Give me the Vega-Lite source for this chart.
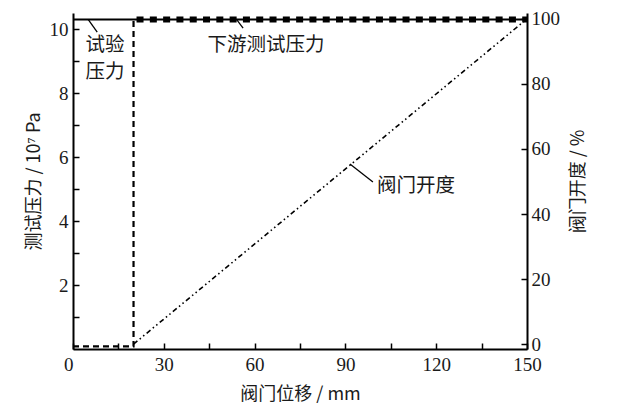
{
  "$schema": "https://vega.github.io/schema/vega-lite/v6.json",
  "width": 454,
  "height": 336,
  "autosize": "none",
  "padding": {"left": 73, "top": 13, "right": 100, "bottom": 71},
  "background": "white",
  "config": {
    "view": {"stroke": null},
    "font": "Liberation Serif",
    "axis": {
      "domainColor": "black",
      "domainWidth": 2,
      "tickColor": "black",
      "tickWidth": 1.5,
      "tickSize": -6,
      "grid": false,
      "labelOverlap": false,
      "labelFont": "Liberation Serif",
      "labelFontSize": 19,
      "labelColor": "#1a1a1a",
      "titleFont": "Noto Sans CJK SC",
      "titleFontSize": 18,
      "titleFontWeight": "normal",
      "titleColor": "#1a1a1a"
    }
  },
  "datasets": {
    "lines": [
      {"series": "试验压力", "x": 0, "y": 10.3},
      {"series": "试验压力", "x": 150, "y": 10.3},
      {"series": "下游测试压力(初段)", "x": 0, "y": 0.08},
      {"series": "下游测试压力(初段)", "x": 20, "y": 0.08},
      {"series": "下游测试压力(初段)", "x": 20, "y": 10.3},
      {"series": "下游测试压力", "x": 20, "y": 10.3},
      {"series": "下游测试压力", "x": 150, "y": 10.3}
    ],
    "opening": [
      {"series": "阀门开度", "x": 20, "y": 0},
      {"series": "阀门开度", "x": 150, "y": 100}
    ],
    "labels": [
      {"text": "试验", "x": 10.6, "y": 9.5},
      {"text": "压力", "x": 10.6, "y": 8.65},
      {"text": "下游测试压力", "x": 63.8, "y": 9.5},
      {"text": "阀门开度", "x": 113.3, "y": 5.1}
    ],
    "leaders": [
      {"x": 5.0, "y": 10.3, "x2": 8.0, "y2": 9.9},
      {"x": 54.2, "y": 10.28, "x2": 56.2, "y2": 10.03},
      {"x": 91.5, "y": 5.78, "x2": 99.1, "y2": 5.22}
    ]
  },
  "layer": [
    {
      "layer": [
        {
          "data": {"name": "lines"},
          "transform": [{"filter": "datum.series == '试验压力'"}],
          "mark": {"type": "line", "color": "black", "strokeWidth": 2},
          "encoding": {
            "x": {"field": "x", "type": "quantitative", "scale": {"domain": [0, 150], "nice": false, "zero": false},
              "axis": {"title": "阀门位移 / mm", "values": [0, 15, 30, 45, 60, 75, 90, 105, 120, 135, 150],
                "labelExpr": "datum.value % 30 == 0 ? datum.label : ''", "labelPadding": 12, "titlePadding": 11,
                "labelOverlap": false,
                "labelAlign": {"expr": "datum.value == 0 ? 'right' : 'center'"}}},
            "y": {"field": "y", "type": "quantitative", "scale": {"domain": [0, 10.5], "nice": false, "zero": false},
              "axis": {"orient": "left", "title": "测试压力 / 10⁷ Pa", "values": [2, 4, 6, 8, 10],
                "labelOverlap": false, "labelPadding": 11, "titlePadding": 6}}
          }
        },
        {
          "data": {"name": "lines"},
          "transform": [{"filter": "datum.series == '下游测试压力(初段)'"}],
          "mark": {"type": "line", "color": "black", "strokeWidth": 2.2, "strokeDash": [6, 4]},
          "encoding": {
            "x": {"field": "x", "type": "quantitative"},
            "y": {"field": "y", "type": "quantitative"}
          }
        },
        {
          "data": {"name": "lines"},
          "transform": [{"filter": "datum.series == '下游测试压力'"}],
          "mark": {"type": "line", "color": "black", "strokeWidth": 6, "strokeDash": [7, 6.3], "strokeDashOffset": -3, "strokeCap": "butt"},
          "encoding": {
            "x": {"field": "x", "type": "quantitative"},
            "y": {"field": "y", "type": "quantitative"}
          }
        },
        {
          "data": {"name": "leaders"},
          "mark": {"type": "rule", "color": "black", "strokeWidth": 1.3},
          "encoding": {
            "x": {"field": "x", "type": "quantitative"},
            "x2": {"field": "x2"},
            "y": {"field": "y", "type": "quantitative"},
            "y2": {"field": "y2"}
          }
        },
        {
          "data": {"name": "labels"},
          "mark": {"type": "text", "font": "Noto Sans CJK SC", "fontSize": 19.5, "color": "#1a1a1a", "baseline": "middle", "align": "center"},
          "encoding": {
            "x": {"field": "x", "type": "quantitative"},
            "y": {"field": "y", "type": "quantitative"},
            "text": {"field": "text"}
          }
        }
      ]
    },
    {
      "data": {"name": "opening"},
      "mark": {"type": "line", "color": "black", "strokeWidth": 1.6, "strokeDash": [5, 3, 1.5, 3, 1.5, 3]},
      "encoding": {
        "x": {"field": "x", "type": "quantitative"},
        "y": {"field": "y", "type": "quantitative", "scale": {"domain": [-1.5, 101.8], "nice": false, "zero": false},
          "axis": {"orient": "right", "title": "阀门开度 / %", "titleAngle": 270, "values": [0, 20, 40, 60, 80, 100],
            "labelOverlap": false, "labelPadding": 10, "titlePadding": 28}}
      }
    },
    {
      "data": {"name": "labels"},
      "mark": {"type": "point", "opacity": 0},
      "encoding": {
        "x": {"field": "x", "type": "quantitative"},
        "y": {"field": "y", "type": "quantitative", "scale": {"domain": [0, 10.5], "nice": false, "zero": false},
          "axis": {"orient": "left", "title": null, "values": [1, 3, 5, 7, 9], "labels": false, "domain": false}}
      }
    }
  ],
  "resolve": {"scale": {"y": "independent"}}
}
